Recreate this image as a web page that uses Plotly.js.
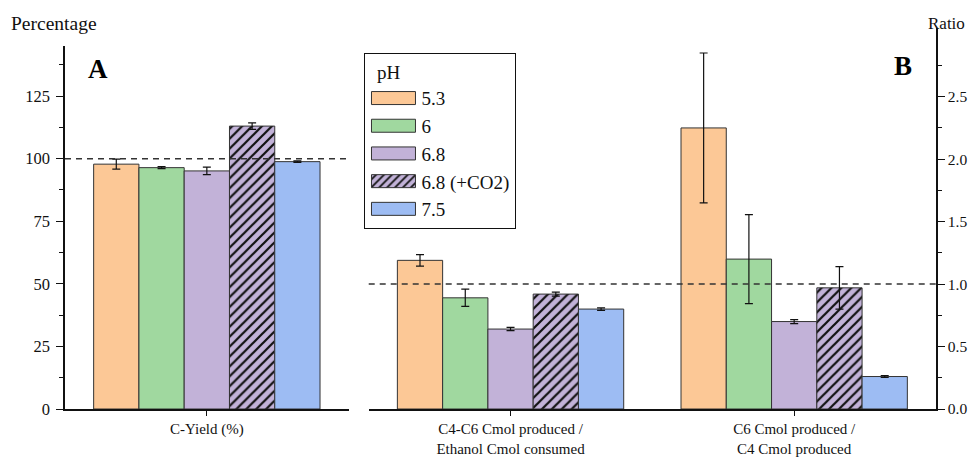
<!DOCTYPE html>
<html>
<head>
<meta charset="utf-8">
<script src="https://cdn.plot.ly/plotly-3.0.1.min.js"></script>
<style>
html,body{margin:0;padding:0;background:#fff;}
#chart{width:969px;height:457px;}
#chart .legendpoints path.legendundefined,
#chart .legendpoints path.legendbar{ d: path("M22,6.5H-22V-6.5H22Z"); }
</style>
</head>
<body>
<div id="chart"></div>
<script>
// ---- data ----
const pHLabels = ['5.3', '6', '6.8', '6.8 (+CO2)', '7.5'];
const pHColors = ['#FCC896', '#A0D89F', '#C2B2D8', '#C2B2D8', '#9DBCF3'];
const pHHatched = [false, false, false, true, false];

const catA = ['C-Yield (%)'];
const catB = ['C4-C6 Cmol produced /<br>Ethanol Cmol consumed', 'C6 Cmol produced /<br>C4 Cmol produced'];

const cYield = [97.8, 96.4, 95.1, 113.0, 98.8];
const cYieldErr = [2.0, 0.4, 1.5, 1.3, 0.3];

const ratioC4C6 = [1.19, 0.89, 0.64, 0.92, 0.80];
const ratioC4C6Err = [0.046, 0.069, 0.013, 0.016, 0.010];

const ratioC6C4 = [2.25, 1.20, 0.70, 0.97, 0.26];
const ratioC6C4Err = [0.60, 0.356, 0.016, 0.17, 0.008];

const refPercent = 100;
const refRatio = 1.0;

// ---- traces ----
const FONT = 'Liberation Serif';
const traces = [];
function markerFor(i) {
  const m = {color: pHColors[i], line: {color: '#333', width: 1}};
  if (pHHatched[i]) {
    m.pattern = {shape: '/', fgcolor: '#111', bgcolor: pHColors[i], size: 7, solidity: 0.32, fillmode: 'replace'};
  }
  return m;
}
const errStyle = {type: 'data', color: '#111', thickness: 1.2, width: 4, visible: true};

pHLabels.forEach((lab, i) => {
  traces.push({
    type: 'bar', name: lab, legendgroup: 'g' + i, showlegend: true,
    x: catA, y: [cYield[i]],
    error_y: Object.assign({array: [cYieldErr[i]]}, errStyle),
    marker: markerFor(i), xaxis: 'x', yaxis: 'y', hoverinfo: 'y+name'
  });
});
pHLabels.forEach((lab, i) => {
  traces.push({
    type: 'bar', name: lab, legendgroup: 'g' + i, showlegend: false,
    x: catB, y: [ratioC4C6[i], ratioC6C4[i]],
    error_y: Object.assign({array: [ratioC4C6Err[i], ratioC6C4Err[i]]}, errStyle),
    marker: markerFor(i), xaxis: 'x2', yaxis: 'y2', hoverinfo: 'y+name'
  });
});

const yTickFont = {family: FONT, size: 16.5, color: '#111'};
const xTickFont = {family: FONT, size: 15, color: '#111'};
const layout = {
  width: 969, height: 457,
  margin: {l: 65, r: 33, t: 28, b: 48},
  paper_bgcolor: '#fff', plot_bgcolor: 'rgba(0,0,0,0)',
  font: {family: FONT, size: 16, color: '#111'},
  barmode: 'group', bargap: 0.202, bargroupgap: 0,
  showlegend: true,
  legend: {
    x: 0.3436, y: 0.9336, xanchor: 'left', yanchor: 'top',
    bgcolor: '#fff', bordercolor: '#111', borderwidth: 1.2,
    font: {family: FONT, size: 19, color: '#111'},
    title: {text: '&nbsp;&nbsp;pH', font: {family: FONT, size: 19, color: '#111'}},
    itemwidth: 46, tracegroupgap: 0, traceorder: 'grouped',
    itemclick: false, itemdoubleclick: false
  },
  xaxis: {
    domain: [0, 0.3257], anchor: 'y', type: 'category',
    showline: true, linecolor: '#111', linewidth: 2,
    ticks: 'outside', ticklen: 5, tickwidth: 1.2, tickcolor: '#111',
    tickfont: xTickFont, showgrid: false, zeroline: false, fixedrange: true
  },
  xaxis2: {
    domain: [0.3487, 1], anchor: 'y2', type: 'category',
    showline: true, linecolor: '#111', linewidth: 2,
    ticks: 'outside', ticklen: 5, tickwidth: 1.2, tickcolor: '#111',
    tickfont: xTickFont, showgrid: false, zeroline: false, fixedrange: true
  },
  yaxis: {
    domain: [0, 0.9528], anchor: 'x', side: 'left', range: [0, 145],
    tickvals: [0, 25, 50, 75, 100, 125],
    showline: true, linecolor: '#111', linewidth: 1.5,
    ticks: 'outside', ticklen: 7, tickwidth: 1.2, tickcolor: '#111', ticklabelstandoff: 3,
    minor: {tickvals: [12.5, 37.5, 62.5, 87.5, 112.5, 137.5], ticks: 'outside', ticklen: 4, tickcolor: '#111', tickwidth: 1, showgrid: false},
    tickfont: yTickFont, showgrid: false, zeroline: false, fixedrange: true
  },
  yaxis2: {
    domain: [0, 1], anchor: 'x2', side: 'right', range: [0, 3.05],
    tickvals: [0, 0.5, 1, 1.5, 2, 2.5], tickformat: '.1f',
    showline: true, linecolor: '#111', linewidth: 1.5,
    ticks: 'outside', ticklen: 7, tickwidth: 1.2, tickcolor: '#111', ticklabelstandoff: 0,
    minor: {tickvals: [0.25, 0.75, 1.25, 1.75, 2.25, 2.75], ticks: 'outside', ticklen: 4, tickcolor: '#111', tickwidth: 1, showgrid: false},
    tickfont: {family: FONT, size: 15.5, color: '#111'}, showgrid: false, zeroline: false, fixedrange: true
  },
  shapes: [
    {type: 'line', xref: 'x domain', yref: 'y', x0: 0, x1: 1, y0: refPercent, y1: refPercent,
     line: {color: '#333', width: 1.5, dash: '6px,5px'}, layer: 'above'},
    {type: 'line', xref: 'x2 domain', yref: 'y2', x0: 0, x1: 1, y0: refRatio, y1: refRatio,
     line: {color: '#333', width: 1.5, dash: '6px,5px'}, layer: 'above'}
  ],
  annotations: [
    {text: 'Percentage', xref: 'paper', yref: 'paper', x: -0.0643, y: 1.013, xanchor: 'left', yanchor: 'middle',
     showarrow: false, font: {family: FONT, size: 19.5, color: '#111'}},
    {text: 'Ratio', xref: 'paper', yref: 'paper', x: 1.0356, y: 1.013, xanchor: 'right', yanchor: 'middle',
     showarrow: false, font: {family: FONT, size: 17, color: '#111'}},
    {text: '<b>A</b>', xref: 'paper', yref: 'paper', x: 0.0379, y: 0.8924, xanchor: 'center', yanchor: 'middle',
     showarrow: false, font: {family: FONT, size: 27, color: '#000'}},
    {text: '<b>B</b>', xref: 'paper', yref: 'paper', x: 0.9621, y: 0.9003, xanchor: 'center', yanchor: 'middle',
     showarrow: false, font: {family: FONT, size: 27, color: '#000'}}
  ]
};

function enlargeSwatches() {
  document.querySelectorAll('#chart .legendpoints path.legendundefined, #chart .legendpoints path.legendbar').forEach(function (p) {
    p.setAttribute('d', 'M22,6.5H-22V-6.5H22Z');
  });
}
const gd = document.getElementById('chart');
Plotly.newPlot(gd, traces, layout, {displayModeBar: false}).then(function () {
  enlargeSwatches();
  gd.on('plotly_afterplot', enlargeSwatches);
});
</script>
</body>
</html>
